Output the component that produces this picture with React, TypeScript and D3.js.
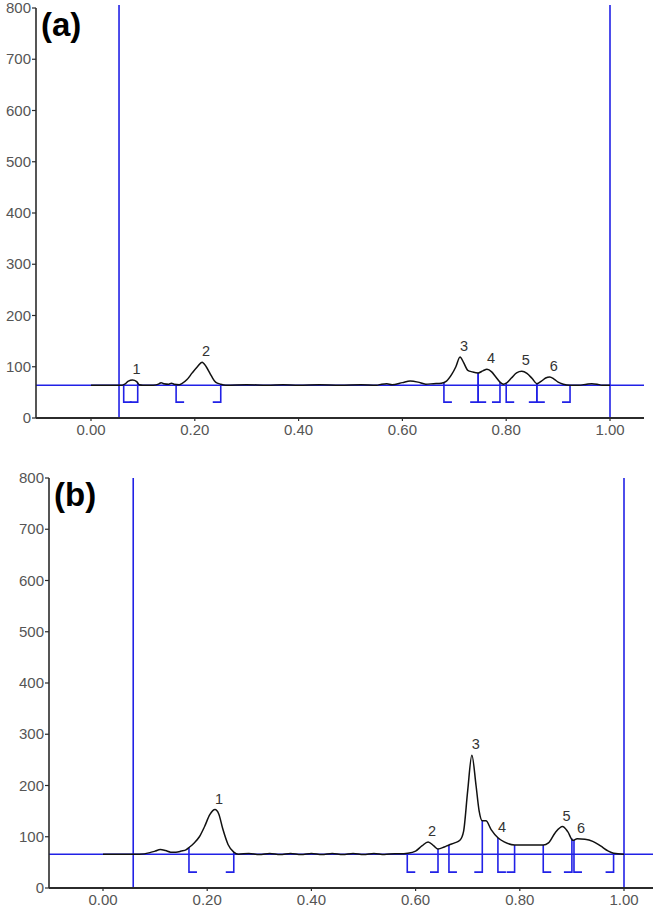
import React from 'react';
import * as d3 from 'd3';

// ---------- data ----------
const yTickValues = [0, 100, 200, 300, 400, 500, 600, 700, 800];
const xTickValues = [0, 0.2, 0.4, 0.6, 0.8, 1.0];

// panel (a)
const rfA = [0.0, 0.05, 0.06, 0.065, 0.072, 0.08, 0.088, 0.093, 0.10, 0.12, 0.13, 0.135, 0.14, 0.15, 0.155, 0.16, 0.17, 0.175,
  0.185, 0.195, 0.205, 0.214, 0.222, 0.232, 0.24, 0.25, 0.26, 0.30, 0.34, 0.37, 0.40, 0.44, 0.48, 0.52, 0.55, 0.56, 0.57, 0.58,
  0.60, 0.615, 0.63, 0.645, 0.66, 0.675, 0.685, 0.695, 0.703, 0.711, 0.718, 0.726, 0.735, 0.746, 0.755, 0.763, 0.772, 0.78,
  0.788, 0.795, 0.80, 0.81, 0.82, 0.83, 0.84, 0.85, 0.859, 0.868, 0.876, 0.884, 0.892, 0.90, 0.91, 0.923, 0.94, 0.955, 0.965,
  0.975, 0.985, 1.0];
const intensityA = [64, 64, 64, 66, 72, 74, 71, 65, 64, 64, 66, 69, 67, 66, 68, 66, 65, 67,
  75, 88, 100, 109, 100, 82, 70, 66, 64, 65, 64, 65, 64, 65, 64, 65, 64, 66, 67, 65,
  69, 72, 70, 66, 67, 68, 72, 85, 100, 119, 108, 93, 90, 88, 92, 95, 90, 80,
  70, 66, 68, 78, 88, 91, 87, 77, 67, 72, 78, 80, 76, 70, 66, 64, 64, 66, 67,
  66, 64, 64];
const regionsA = [[0.063, 0.090], [0.164, 0.250], [0.680, 0.746], [0.746, 0.788], [0.800, 0.859], [0.859, 0.923]];
const peakNamesA = ['1', '2', '3', '4', '5', '6'];
const frontLinesA = [0.054, 1.0];
const baselineA = 64;

// panel (b)
const rfB = [0.0, 0.05, 0.07, 0.09, 0.10, 0.11, 0.12, 0.13, 0.14, 0.15, 0.16, 0.165, 0.175, 0.185, 0.195, 0.205, 0.215, 0.222,
  0.23, 0.24, 0.251, 0.26, 0.28, 0.30, 0.32, 0.34, 0.36, 0.38, 0.40, 0.42, 0.44, 0.46, 0.48, 0.50, 0.52, 0.54, 0.56, 0.57, 0.585,
  0.60, 0.612, 0.624, 0.635, 0.643, 0.655, 0.664, 0.675, 0.685, 0.692, 0.70, 0.708, 0.716, 0.722, 0.728, 0.735, 0.745, 0.758,
  0.77, 0.79, 0.82, 0.845, 0.855, 0.868, 0.882, 0.892, 0.902, 0.91, 0.925, 0.94, 0.955, 0.97, 0.98, 1.0];
const intensityB = [66, 66, 66, 69, 72, 75, 73, 70, 70, 72, 75, 79, 88, 100, 120, 143, 153, 145,
  115, 85, 70, 66, 67.5, 65.5, 67.5, 65.5, 67.5, 65.5, 67.5, 65.5, 67.5, 65.5, 67.5, 65.5, 67.5, 65.5, 67, 67, 68,
  72, 82, 90, 82, 76, 80, 84, 88, 93, 110, 190, 259, 200, 150, 131, 131, 114, 98,
  90, 84, 84, 84, 88, 108, 120, 110, 93, 96, 95, 91, 82, 72, 68, 66];
const regionsB = [[0.165, 0.251], [0.584, 0.643], [0.664, 0.728], [0.758, 0.790], [0.845, 0.900], [0.904, 0.980]];
const peakNamesB = ['1', '2', '3', '4', '5', '6'];
const frontLinesB = [0.058, 1.0];
const baselineB = 66;

// ---------- style ----------
const BLUE = '#2121e6';
const AXIS = '#2b2b2b';
const TICKTXT = '#555';
const FONT = 'Liberation Sans, Arial, sans-serif';
const BRACKET_LOW = 31;
const TICK_LEN = 8;

type PanelProps = {
  tag: string;
  rf: number[];
  intensity: number[];
  regions: number[][];
  names: string[];
  fronts: number[];
  baseline: number;
  axisLeft: number;
  axisRight: number;
  x0: number;
  x1: number;
  top: number;
  bottom: number;
  frontTop: number;
};

function Panel(p: PanelProps) {
  const x = d3.scaleLinear().domain([0, 1]).range([p.x0, p.x1]);
  const y = d3.scaleLinear().domain([0, 800]).range([p.bottom, p.top]);
  const pts = p.rf.map((r, i) => [r, p.intensity[i]] as [number, number]);
  const line = d3.line<[number, number]>().x(d => x(d[0])).y(d => y(d[1])).curve(d3.curveMonotoneX);
  const interp = (r: number) => {
    const i = d3.bisector((d: [number, number]) => d[0]).left(pts, r);
    if (i <= 0) return pts[0][1];
    if (i >= pts.length) return pts[pts.length - 1][1];
    const a = pts[i - 1], b = pts[i];
    const t = (r - a[0]) / (b[0] - a[0]);
    return a[1] + (b[1] - a[1]) * t;
  };
  const brackets: JSX.Element[] = [];
  p.regions.forEach(([s, e], k) => {
    const ys = Math.max(interp(s), p.baseline);
    const ye = Math.max(interp(e), p.baseline);
    brackets.push(
      <path key={'s' + k} d={`M${x(s)},${y(ys)}V${y(BRACKET_LOW)}H${x(s) + TICK_LEN}`} fill="none" stroke={BLUE} strokeWidth={1.6} />,
      <path key={'e' + k} d={`M${x(e)},${y(ye)}V${y(BRACKET_LOW)}H${x(e) - TICK_LEN}`} fill="none" stroke={BLUE} strokeWidth={1.6} />
    );
  });
  const labels = p.regions.map(([s, e], k) => {
    const inside = pts.filter(d => d[0] >= s && d[0] <= e);
    const apex = inside.reduce((m, d) => (d[1] > m[1] ? d : m), inside[0]);
    return (
      <text key={'l' + k} x={x(apex[0]) + 4} y={y(apex[1]) - 6} textAnchor="middle" fontFamily={FONT} fontSize={14.5} fill="#333">
        {p.names[k]}
      </text>
    );
  });
  return (
    <g>
      {/* baseline */}
      <line x1={p.axisLeft} x2={p.axisRight} y1={y(p.baseline)} y2={y(p.baseline)} stroke={BLUE} strokeWidth={1.6} />
      {/* origin / front lines */}
      {p.fronts.map((f, i) => (
        <line key={'f' + i} x1={x(f)} x2={x(f)} y1={p.frontTop} y2={p.bottom} stroke={BLUE} strokeWidth={1.6} />
      ))}
      {brackets}
      <path d={line(pts) || ''} fill="none" stroke="#111" strokeWidth={1.5} />
      {labels}
      {/* axes */}
      <line x1={p.axisLeft} x2={p.axisLeft} y1={p.top} y2={p.bottom} stroke={AXIS} strokeWidth={1.6} />
      <line x1={p.axisLeft} x2={p.axisRight} y1={p.bottom} y2={p.bottom} stroke={AXIS} strokeWidth={1.8} />
      {yTickValues.map(v => (
        <g key={'y' + v}>
          <line x1={p.axisLeft - 4} x2={p.axisLeft} y1={y(v)} y2={y(v)} stroke={AXIS} strokeWidth={1.2} />
          <text x={p.axisLeft - 5} y={y(v) + 5} textAnchor="end" fontFamily={FONT} fontSize={15} fill={TICKTXT}>{v}</text>
        </g>
      ))}
      {xTickValues.map(v => (
        <g key={'x' + v}>
          <line x1={x(v)} x2={x(v)} y1={p.bottom} y2={p.bottom + 3} stroke={AXIS} strokeWidth={1.2} />
          <text x={x(v)} y={p.bottom + 17} textAnchor="middle" fontFamily={FONT} fontSize={15} fill={TICKTXT}>{d3.format('.2f')(v)}</text>
        </g>
      ))}
      <text x={p.axisLeft + 5} y={p.top + 28} fontFamily={FONT} fontWeight="bold" fontSize={33} fill="#000">{p.tag}</text>
    </g>
  );
}

export default function App() {
  return (
    <div style={{ position: 'absolute', left: 0, top: 0 }}>
      <svg width={653} height={908} style={{ display: 'block', background: '#fff' }}>
        <Panel tag="(a)" rf={rfA} intensity={intensityA} regions={regionsA} names={peakNamesA} fronts={frontLinesA}
          baseline={baselineA} axisLeft={36} axisRight={644} x0={91} x1={610} top={8} bottom={418} frontTop={5} />
        <Panel tag="(b)" rf={rfB} intensity={intensityB} regions={regionsB} names={peakNamesB} fronts={frontLinesB}
          baseline={baselineB} axisLeft={49} axisRight={653} x0={103} x1={624} top={478} bottom={888} frontTop={478} />
      </svg>
    </div>
  );
}
